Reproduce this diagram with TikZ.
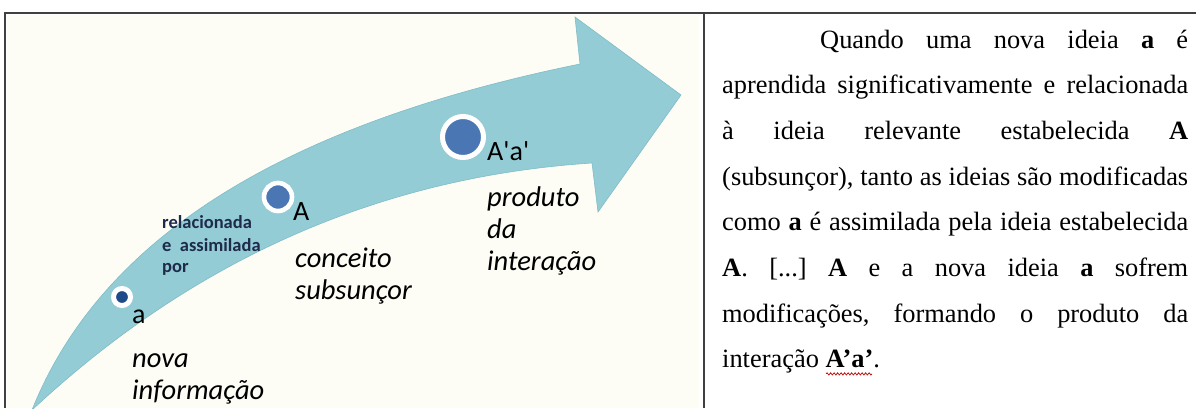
\documentclass[tikz,border=0pt]{standalone}
\usepackage{fontspec}
\setmainfont{Liberation Serif}
\newfontfamily\calibri{Carlito}[Ligatures=TeXOff]
\usetikzlibrary{decorations.pathmorphing}
\definecolor{arrowfill}{HTML}{93CCD5}
\definecolor{arrowedge}{HTML}{7FBDC8}
\definecolor{cream}{HTML}{FDFDF6}
\definecolor{framegray}{HTML}{404040}
\definecolor{dotblue}{HTML}{4A77B4}
\definecolor{dotdark}{HTML}{1F4A8A}
\definecolor{navytext}{HTML}{1E2B4A}
\definecolor{wavered}{HTML}{C00000}
\newcommand\jline[1]{\hbox to 466pt{#1}}
\frenchspacing
\begin{document}
\begin{tikzpicture}[x=1pt,y=-1pt,
  frame/.style={draw=framegray, line width=1.5pt},
  lbl/.style={anchor=base west, inner sep=0pt, font=\calibri\fontsize{28}{28}\selectfont},
  ilbl/.style={anchor=base west, inner sep=0pt, font=\calibri\itshape\fontsize{28.5}{28.5}\selectfont},
  blbl/.style={anchor=base west, inner sep=0pt, text=navytext, font=\calibri\bfseries\fontsize{18.5}{18.5}\selectfont},
  dot/.style={circle, fill=dotblue, draw=white, inner sep=0pt},
  rline/.style={anchor=base west, inner sep=0pt, font=\frenchspacing\fontsize{26.4}{26.4}\selectfont},
  wave/.style={draw=wavered, line width=0.7pt, decorate, decoration={snake, amplitude=1.1pt, segment length=3.5pt}}
]
\useasboundingbox (0,0) rectangle (1196,408);
\fill[white] (0,0) rectangle (1196,408);
\fill[cream] (7,15) rectangle (699,408);
% curved arrow
\begin{scope}
\clip (7,15) rectangle (699,408);
\filldraw[fill=arrowfill, draw=arrowedge, line width=0.6pt]
  (32,410) .. controls (100,240) and (280,125) .. (580,64)
  -- (575,17) -- (681,95) -- (598,212) -- (592,163)
  .. controls (330,180) and (150,300) .. (32,410) -- cycle;
\end{scope}
% circles
\node[dot, fill=dotdark, minimum size=17pt, line width=5pt] (c1) at (122,297) {};
\node[dot, minimum size=28pt, line width=4.6pt] (c2) at (278,197) {};
\node[dot, minimum size=41pt, line width=5pt] (c3) at (463,137) {};
% labels
\node[lbl] (la) at (132,323) {a};
\node[lbl] (lA) at (293,220) {A};
\node[lbl] (lAa) at (487,160) {A'a'};
\node[blbl] (rel1) at (162,228) {relacionada};
\node[blbl] (rel2) at (162,251) {e\ \ assimilada};
\node[blbl] (rel3) at (162,272) {por};
\node[ilbl] (nova1) at (132,367) {nova};
\node[ilbl] (nova2) at (132,399) {informação};
\node[ilbl] (conc1) at (295,267) {conceito};
\node[ilbl] (conc2) at (295,299) {subsunçor};
\node[ilbl] (prod1) at (487,206) {produto};
\node[ilbl] (prod2) at (487,238) {da};
\node[ilbl] (prod3) at (487,270) {interação};
% frame
\draw[frame] (5,408) -- (5,13) -- (1196,13);
\draw[frame] (704,13) -- (704,408);
% right text
\node[rline] (r1) at (722,48) {\jline{\hspace*{98pt}Quando uma nova ideia \textbf{a} é}};
\node[rline] (r2) at (722,93.7) {\jline{aprendida significativamente e relacionada}};
\node[rline] (r3) at (722,139.4) {\jline{à ideia relevante estabelecida \textbf{A}}};
\node[rline] (r4) at (722,185.1) {\jline{(subsunçor), tanto as ideias são modificadas}};
\node[rline] (r5) at (722,230.8) {\jline{como \textbf{a} é assimilada pela ideia estabelecida}};
\node[rline] (r6) at (722,276.5) {\jline{\textbf{A}. [...] \textbf{A} e a nova ideia \textbf{a} sofrem}};
\node[rline] (r7) at (722,322.2) {\jline{modificações, formando o produto da}};
\node[rline] (r8) at (722,367.9) {interação \textbf{A’a’}.};
\draw[wave] ([xshift=104pt, yshift=-6pt]r8.base west) -- ++(46,0);
\end{tikzpicture}
\end{document}
